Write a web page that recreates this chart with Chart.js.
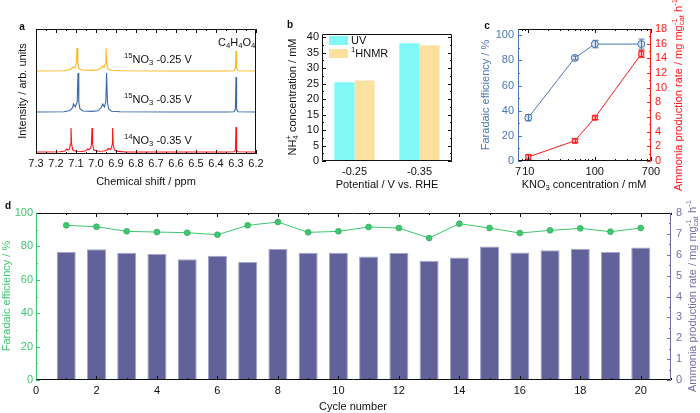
<!DOCTYPE html>
<html>
<head>
<meta charset="utf-8">
<script src="https://cdn.jsdelivr.net/npm/chart.js@4.4.1/dist/chart.umd.min.js"></script>
<style>
body { margin: 0; background: #fff; }
#wrap { position: relative; width: 700px; height: 413px; background: #fff; }
canvas { position: absolute; left: 0; top: 0; }
</style>
</head>
<body>
<div id="wrap">
  <canvas id="ca" width="700" height="413"></canvas>
  <canvas id="cb" width="700" height="413"></canvas>
  <canvas id="cc" width="700" height="413"></canvas>
  <canvas id="cd" width="700" height="413"></canvas>
</div>
<script>
// ---------- a: 1H NMR spectra (stacked, arb. units)
const shiftTicks = [7.3, 7.2, 7.1, 7.0, 6.9, 6.8, 6.7, 6.6, 6.5, 6.4, 6.3, 6.2]
const shiftMinor = [7.25, 7.15, 7.05, 6.95, 6.85, 6.75, 6.65, 6.55, 6.45, 6.35, 6.25]

const yellowShift = [7.30, 7.16, 7.13, 7.118, 7.113, 7.106, 7.099, 7.095, 7.091, 7.085, 7.07, 7.02, 6.99, 6.975, 6.967, 6.96, 6.954, 6.950, 6.946, 6.940, 6.925, 6.88, 6.6, 6.35, 6.31, 6.303, 6.300, 6.297, 6.29, 6.20]
const yellowInt   = [83, 83.3, 84.5, 86, 87, 86, 90, 106, 90, 85, 84, 83.6, 84.2, 86, 88, 86.5, 90, 106, 90, 85, 83.8, 83.2, 83, 83, 83.2, 86, 103, 86, 83.2, 83]

const blueShift = [7.30, 7.16, 7.13, 7.118, 7.112, 7.104, 7.094, 7.090, 7.086, 7.080, 7.065, 7.02, 6.99, 6.975, 6.966, 6.958, 6.951, 6.947, 6.943, 6.937, 6.922, 6.88, 6.6, 6.35, 6.31, 6.303, 6.300, 6.297, 6.29, 6.20]
const blueInt   = [42, 42.3, 43.5, 46, 50, 47, 52, 81, 52, 45, 43, 42.6, 43.2, 46, 50, 47, 52, 81, 52, 45, 42.8, 42.2, 42, 42, 42.2, 45, 77, 45, 42.2, 42]

const redShift = [7.30, 7.18, 7.155, 7.147, 7.140, 7.132, 7.128, 7.125, 7.122, 7.116, 7.10, 7.07, 7.05, 7.042, 7.035, 7.026, 7.023, 7.020, 7.017, 7.011, 6.99, 6.96, 6.945, 6.938, 6.93, 6.922, 6.919, 6.917, 6.914, 6.908, 6.89, 6.85, 6.6, 6.35, 6.31, 6.303, 6.300, 6.297, 6.29, 6.20]
const redInt   = [2, 2.2, 3, 5, 4, 5, 10, 26, 10, 4, 2.8, 2.5, 3.2, 5, 4.5, 6, 10, 26, 10, 4, 2.8, 3, 4, 5.5, 4.5, 6, 10, 26, 10, 4, 2.6, 2, 2, 2, 2.2, 4, 27, 4, 2.2, 2]

// ---------- b: NH4+ concentration
const potentials = ['-0.25', '-0.35']
const uvConc = [25.4, 38.0]
const hnmrConc = [26.0, 37.4]
const concTicks = [0, 5, 10, 15, 20, 25, 30, 35, 40]
const concMinor = [2.5, 7.5, 12.5, 17.5, 22.5, 27.5, 32.5, 37.5]

// ---------- c: KNO3 concentration
const kno3 = [10, 50, 100, 500]
const feC = [34.5, 82, 93, 93]
const feCErr = [2.5, 1.5, 3, 4]
const rateC = [0.55, 2.75, 5.9, 14.6]
const rateCErr = [0.3, 0.25, 0.25, 0.5]
const kno3Ticks = [7, 10, 100, 700]
const kno3Minor = [8, 9, 20, 30, 40, 50, 60, 70, 80, 90, 200, 300, 400, 500, 600]
const feTicks = [0, 20, 40, 60, 80, 100]
const feMinor = [10, 30, 50, 70, 90]
const rateTicksC = [0, 2, 4, 6, 8, 10, 12, 14, 16, 18]
const rateMinorC = [1, 3, 5, 7, 9, 11, 13, 15, 17]

// ---------- d: cycling
const cycles = [1, 2, 3, 4, 5, 6, 7, 8, 9, 10, 11, 12, 13, 14, 15, 16, 17, 18, 19, 20]
const feD = [92.6, 91.8, 89, 88.6, 88.2, 87, 92.6, 94.6, 88.4, 89, 91.6, 91, 85, 93.6, 91, 88, 89.6, 90.8, 88.8, 91]
const rateD = [6.13, 6.26, 6.1, 6.03, 5.79, 5.95, 5.65, 6.27, 6.1, 6.1, 5.92, 6.08, 5.71, 5.87, 6.4, 6.11, 6.21, 6.29, 6.13, 6.35]
const cycleTicks = [0, 2, 4, 6, 8, 10, 12, 14, 16, 18, 20]
const cycleMinor = [1, 3, 5, 7, 9, 11, 13, 15, 17, 19, 21]
const rateTicksD = [0, 1, 2, 3, 4, 5, 6, 7, 8]
const rateMinorD = [0.5, 1.5, 2.5, 3.5, 4.5, 5.5, 6.5, 7.5]

const FONT = '"Liberation Sans", Arial, sans-serif'
const FS = 11
Chart.defaults.font.family = FONT
Chart.defaults.font.size = FS
Chart.defaults.color = '#111'
Chart.defaults.animation = false

// text with sub/superscripts: parts = [[text, 'sub'|'sup'|'', keepX]]
function drawRich(ctx, o) {
    const size = o.size || FS
    const font = s => (o.bold ? 'bold ' : '') + s + 'px ' + FONT
    const parts = typeof o.parts === 'string' ? [[o.parts]] : o.parts
    const items = parts.map(p => {
        const mode = p[1] || ''
        const s = mode ? size * 0.7 : size
        ctx.font = font(s)
        return { t: p[0], mode: mode, s: s, w: ctx.measureText(p[0]).width, keep: p[2] }
    })
    let x = 0, keepW = 0
    items.forEach(it => {
        it.x = x
        if (it.keep) { keepW = it.w } else { x += Math.max(it.w, keepW); keepW = 0 }
    })
    const total = x
    ctx.save()
    ctx.translate(o.x, o.y)
    if (o.rot) ctx.rotate(o.rot)
    const start = o.align === 'left' ? 0 : o.align === 'right' ? -total : -total / 2
    ctx.fillStyle = o.color || '#111'
    ctx.textBaseline = 'middle'
    ctx.textAlign = 'left'
    items.forEach(it => {
        ctx.font = font(it.s)
        const dy = it.mode === 'sup' ? -size * 0.35 : it.mode === 'sub' ? size * 0.3 : 0
        ctx.fillText(it.t, start + it.x, dy)
    })
    ctx.restore()
}

// box, inward ticks, titles
function framePlugin(spec) {
    return {
        id: 'frame',
        afterDraw(chart) {
            const ctx = chart.ctx, a = chart.chartArea
            ctx.save()
            ctx.lineWidth = 1
            ;(spec.ticks || []).forEach(t => {
                const s = chart.scales[t.axis]
                ctx.strokeStyle = t.color || '#111'
                ctx.beginPath()
                t.values.forEach(v => {
                    const p = Math.round(s.getPixelForValue(v)) + 0.5
                    t.sides.forEach(side => {
                        if (side === 'bottom') { ctx.moveTo(p, a.bottom); ctx.lineTo(p, a.bottom - t.len) }
                        if (side === 'top') { ctx.moveTo(p, a.top); ctx.lineTo(p, a.top + t.len) }
                        if (side === 'left') { ctx.moveTo(a.left, p); ctx.lineTo(a.left + t.len, p) }
                        if (side === 'right') { ctx.moveTo(a.right, p); ctx.lineTo(a.right - t.len, p) }
                    })
                })
                ctx.stroke()
            })
            const e = spec.edges
            const L = Math.round(a.left) + 0.5, R = Math.round(a.right) - 0.5
            const T = Math.round(a.top) + 0.5, B = Math.round(a.bottom) - 0.5
            const line = (c, x1, y1, x2, y2) => {
                ctx.strokeStyle = c
                ctx.beginPath(); ctx.moveTo(x1, y1); ctx.lineTo(x2, y2); ctx.stroke()
            }
            line(e.top, L, T, R, T)
            line(e.bottom, L, B, R, B)
            line(e.left, L, T, L, B)
            line(e.right, R, T, R, B)
            ;(spec.texts || []).forEach(tx => drawRich(ctx, tx))
            if (spec.extra) spec.extra(chart, ctx)
            ctx.restore()
        }
    }
}

function fixedTicks(arr) {
    return scale => { scale.ticks = arr.map(v => ({ value: v })) }
}

const noGrid = { display: false, drawTicks: false }
const baseOpts = pad => ({
    responsive: false,
    animation: false,
    events: [],
    layout: { padding: pad },
    plugins: { legend: { display: false }, tooltip: { enabled: false } }
})

// ===================== a
new Chart(document.getElementById('ca'), {
    type: 'line',
    data: {
        datasets: [
            { data: yellowShift.map((x, i) => ({ x: x, y: yellowInt[i] })), borderColor: '#ffb81c' },
            { data: blueShift.map((x, i) => ({ x: x, y: blueInt[i] })), borderColor: '#3a6aa8' },
            { data: redShift.map((x, i) => ({ x: x, y: redInt[i] })), borderColor: '#ff1414' }
        ].map(d => Object.assign(d, { borderWidth: 1.1, pointRadius: 0, tension: 0 }))
    },
    options: Object.assign(baseOpts({ left: 36, top: 29, right: 444, bottom: 237 }), {
        scales: {
            x: {
                type: 'linear', reverse: true, min: 6.2, max: 7.3,
                afterBuildTicks: fixedTicks(shiftTicks),
                afterFit: s => { s.height = 22 },
                grid: noGrid, border: { display: false },
                ticks: { padding: 3, autoSkip: false, maxRotation: 0, callback: v => v.toFixed(1) }
            },
            y: { display: false, min: 0, max: 125 }
        }
    }),
    plugins: [framePlugin({
        edges: { top: '#111', bottom: '#111', left: '#111', right: '#111' },
        ticks: [
            { axis: 'x', values: shiftTicks, len: 4, sides: ['bottom', 'top'] },
            { axis: 'x', values: shiftMinor, len: 2, sides: ['bottom', 'top'] }
        ],
        texts: [
            { parts: 'a', x: 22, y: 27, bold: true, size: 10 },
            { parts: 'Intensity / arb. units', x: 23, y: 91, rot: -Math.PI / 2 },
            { parts: 'Chemical shift / ppm', x: 146, y: 182 },
            { parts: [['15', 'sup'], ['NO'], ['3', 'sub'], [' -0.25 V']], x: 124, y: 60, align: 'left' },
            { parts: [['15', 'sup'], ['NO'], ['3', 'sub'], [' -0.35 V']], x: 124, y: 100, align: 'left' },
            { parts: [['14', 'sup'], ['NO'], ['3', 'sub'], [' -0.35 V']], x: 124, y: 141, align: 'left' },
            { parts: [['C'], ['4', 'sub'], ['H'], ['4', 'sub'], ['O'], ['4', 'sub']], x: 218, y: 43, align: 'left' }
        ]
    })]
})

// ===================== b
const uvColor = '#80f8f8', hnmrColor = '#fbe0a0'
new Chart(document.getElementById('cb'), {
    type: 'bar',
    data: {
        labels: potentials,
        datasets: [
            { data: uvConc, backgroundColor: uvColor },
            { data: hnmrConc, backgroundColor: hnmrColor }
        ]
    },
    options: Object.assign(baseOpts({ left: 292, top: 34, right: 248, bottom: 230 }), {
        datasets: { bar: { categoryPercentage: 0.62, barPercentage: 1 } },
        scales: {
            x: {
                afterFit: s => { s.height = 22 },
                grid: noGrid, border: { display: false },
                ticks: { padding: 4, maxRotation: 0 }
            },
            y: {
                min: 0, max: 41,
                afterBuildTicks: fixedTicks(concTicks),
                afterFit: s => { s.width = 30 },
                grid: noGrid, border: { display: false },
                ticks: { padding: 3, autoSkip: false }
            }
        }
    }),
    plugins: [framePlugin({
        edges: { top: '#111', bottom: '#111', left: '#111', right: '#111' },
        ticks: [
            { axis: 'y', values: concTicks, len: 4, sides: ['left', 'right'] },
            { axis: 'y', values: concMinor, len: 2, sides: ['left', 'right'] }
        ],
        texts: [
            { parts: 'b', x: 290, y: 25, bold: true, size: 10 },
            { parts: [['NH'], ['4', 'sub', 1], ['+', 'sup'], [' concentration / mM']], x: 293, y: 97, rot: -Math.PI / 2 },
            { parts: 'Potential / V vs. RHE', x: 387, y: 185 },
            { parts: 'UV', x: 351, y: 41, align: 'left' },
            { parts: [['1', 'sup'], ['HNMR']], x: 351, y: 54, align: 'left' }
        ],
        extra: (chart, ctx) => {
            const a = chart.chartArea
            ctx.fillStyle = uvColor
            ctx.fillRect(a.left + 7, a.top + 2, 19, 9)
            ctx.fillStyle = hnmrColor
            ctx.fillRect(a.left + 7, a.top + 15, 19, 9)
        }
    })]
})

// ===================== c
const feBlue = '#4a78b4', rateRed = '#ff1a1a'
new Chart(document.getElementById('cc'), {
    type: 'line',
    data: {
        datasets: [
            {
                data: kno3.map((x, i) => ({ x: x, y: feC[i] })), yAxisID: 'y',
                borderColor: feBlue, backgroundColor: '#d4e0f0', borderWidth: 1,
                pointStyle: 'circle', pointRadius: 3.5, pointBorderWidth: 1
            },
            {
                data: kno3.map((x, i) => ({ x: x, y: rateC[i] })), yAxisID: 'y1',
                borderColor: rateRed, backgroundColor: '#ffb4b4', borderWidth: 1,
                pointStyle: 'rect', pointRadius: 3.5, pointBorderWidth: 1
            }
        ]
    },
    options: Object.assign(baseOpts({ left: 488, top: 29, right: 19, bottom: 230 }), {
        scales: {
            x: {
                type: 'logarithmic', min: 7, max: 700,
                afterBuildTicks: fixedTicks(kno3Ticks),
                afterFit: s => { s.height = 22 },
                grid: noGrid, border: { display: false },
                ticks: { padding: 4, autoSkip: false, maxRotation: 0, callback: v => String(v) }
            },
            y: {
                position: 'left', min: 0, max: 105,
                afterBuildTicks: fixedTicks(feTicks),
                afterFit: s => { s.width = 30 },
                grid: noGrid, border: { display: false },
                ticks: { padding: 4, autoSkip: false, color: feBlue }
            },
            y1: {
                position: 'right', min: 0, max: 18,
                afterBuildTicks: fixedTicks(rateTicksC),
                afterFit: s => { s.width = 30 },
                grid: noGrid, border: { display: false },
                ticks: { padding: 4, autoSkip: false, color: rateRed }
            }
        }
    }),
    plugins: [{
        id: 'errbars',
        afterDatasetsDraw(chart) {
            const ctx = chart.ctx, sx = chart.scales.x
            const sets = [[chart.scales.y, feC, feCErr, feBlue], [chart.scales.y1, rateC, rateCErr, rateRed]]
            ctx.save()
            ctx.lineWidth = 1
            sets.forEach(([sy, vals, errs, col]) => {
                ctx.strokeStyle = col
                ctx.beginPath()
                kno3.forEach((k, i) => {
                    const px = Math.round(sx.getPixelForValue(k)) + 0.5
                    const y1 = sy.getPixelForValue(vals[i] - errs[i])
                    const y2 = sy.getPixelForValue(vals[i] + errs[i])
                    ctx.moveTo(px, y1); ctx.lineTo(px, y2)
                    ctx.moveTo(px - 3, y1); ctx.lineTo(px + 3, y1)
                    ctx.moveTo(px - 3, y2); ctx.lineTo(px + 3, y2)
                })
                ctx.stroke()
            })
            ctx.restore()
        }
    }, framePlugin({
        edges: { top: '#111', bottom: '#111', left: feBlue, right: rateRed },
        ticks: [
            { axis: 'x', values: kno3Ticks, len: 4, sides: ['bottom', 'top'] },
            { axis: 'x', values: kno3Minor, len: 2, sides: ['bottom', 'top'] },
            { axis: 'y', values: feTicks, len: 4, sides: ['left'], color: feBlue },
            { axis: 'y', values: feMinor, len: 2, sides: ['left'], color: feBlue },
            { axis: 'y1', values: rateTicksC, len: 4, sides: ['right'], color: rateRed },
            { axis: 'y1', values: rateMinorC, len: 2, sides: ['right'], color: rateRed }
        ],
        texts: [
            { parts: 'c', x: 487, y: 26, bold: true, size: 10 },
            { parts: 'Faradaic efficiency / %', x: 486, y: 95, rot: -Math.PI / 2, color: feBlue },
            { parts: [['Ammonia production rate / mg mg'], ['cat', 'sub', 1], ['-1', 'sup'], [' h'], ['-1', 'sup']], x: 679, y: 95, rot: -Math.PI / 2, color: rateRed },
            { parts: [['KNO'], ['3', 'sub'], [' concentration / mM']], x: 584, y: 185 }
        ]
    })]
})

// ===================== d
const feGreen = '#3cc86e', ratePurple = '#7070a8', barFill = '#62629a'
new Chart(document.getElementById('cd'), {
    type: 'bar',
    data: {
        datasets: [
            {
                type: 'line', order: 0, yAxisID: 'y',
                data: cycles.map((c, i) => ({ x: c, y: feD[i] })),
                borderColor: feGreen, backgroundColor: feGreen, borderWidth: 1,
                pointRadius: 3, pointBorderWidth: 0.5, pointBorderColor: '#2a9a55', tension: 0
            },
            {
                type: 'bar', order: 1, yAxisID: 'y1',
                data: cycles.map((c, i) => ({ x: c, y: rateD[i] })),
                backgroundColor: barFill, borderColor: '#a4a4cc', borderWidth: 1,
                categoryPercentage: 1, barPercentage: 0.63
            }
        ]
    },
    options: Object.assign(baseOpts({ left: 6, top: 213, right: 9, bottom: 13 }), {
        scales: {
            x: {
                type: 'linear', min: 0, max: 21, offset: false,
                afterBuildTicks: fixedTicks(cycleTicks),
                afterFit: s => { s.height = 20 },
                grid: Object.assign({ offset: false }, noGrid), border: { display: false },
                ticks: { padding: 4, autoSkip: false, maxRotation: 0 }
            },
            y: {
                position: 'left', min: 0, max: 100,
                afterBuildTicks: fixedTicks(feTicks),
                afterFit: s => { s.width = 30 },
                grid: noGrid, border: { display: false },
                ticks: { padding: 3, autoSkip: false, color: feGreen }
            },
            y1: {
                position: 'right', min: 0, max: 8,
                afterBuildTicks: fixedTicks(rateTicksD),
                afterFit: s => { s.width = 20 },
                grid: noGrid, border: { display: false },
                ticks: { padding: 5, autoSkip: false, color: ratePurple }
            }
        }
    }),
    plugins: [framePlugin({
        edges: { top: '#111', bottom: '#111', left: feGreen, right: ratePurple },
        ticks: [
            { axis: 'x', values: cycleTicks, len: 4, sides: ['bottom', 'top'] },
            { axis: 'x', values: cycleMinor, len: 2, sides: ['bottom', 'top'] },
            { axis: 'y', values: feTicks, len: 4, sides: ['left'], color: feGreen },
            { axis: 'y', values: feMinor, len: 2, sides: ['left'], color: feGreen },
            { axis: 'y1', values: rateTicksD, len: 4, sides: ['right'], color: ratePurple },
            { axis: 'y1', values: rateMinorD, len: 2, sides: ['right'], color: ratePurple }
        ],
        texts: [
            { parts: 'd', x: 8, y: 206, bold: true, size: 10 },
            { parts: 'Faradaic efficiency / %', x: 7, y: 296, rot: -Math.PI / 2, color: feGreen },
            { parts: [['Ammonia production rate / mg mg'], ['cat', 'sub', 1], ['-1', 'sup'], [' h'], ['-1', 'sup']], x: 693, y: 296, rot: -Math.PI / 2, color: ratePurple },
            { parts: 'Cycle number', x: 353, y: 407 }
        ]
    })]
})
</script>
</body>
</html>
